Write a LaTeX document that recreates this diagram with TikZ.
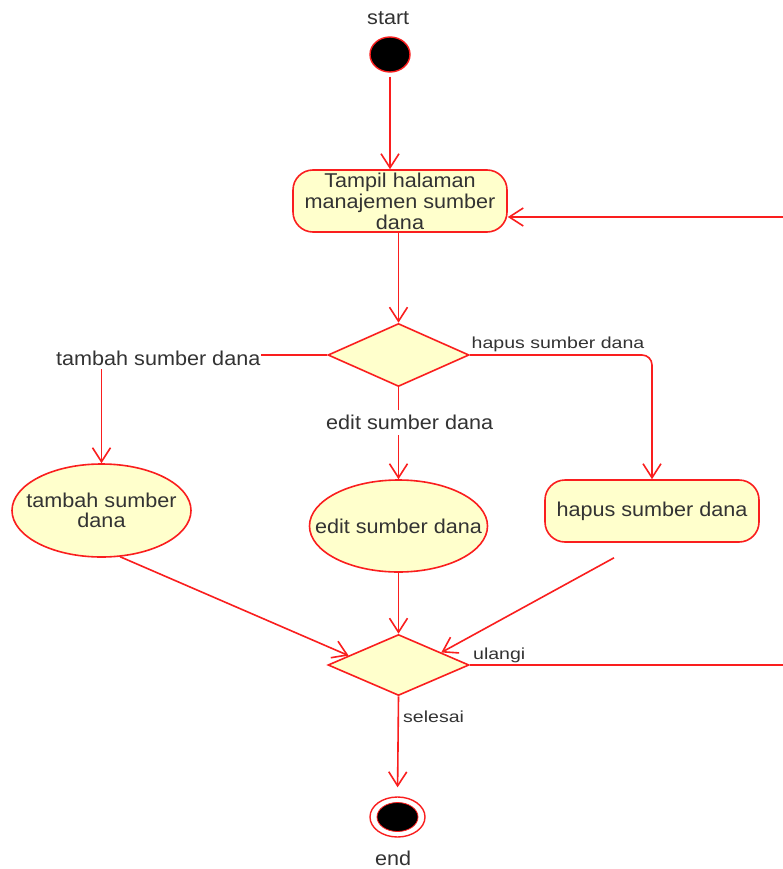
\documentclass[tikz,border=0pt]{standalone}
\usepackage{fontspec}
\setmainfont[FakeStretch=1.08]{Liberation Sans}
\newfontfamily\smallfont[FakeStretch=1.22]{Liberation Sans}
\usetikzlibrary{shapes.geometric,arrows.meta,calc}
\definecolor{umlred}{RGB}{250,30,30}
\definecolor{umlfill}{RGB}{255,255,204}
\definecolor{umltext}{RGB}{51,51,51}
\begin{document}
\begin{tikzpicture}[x=1pt,y=-1pt,
  every node/.style={text=umltext, font=\fontsize{20}{21}\selectfont},
  flow/.style={draw=umlred, line width=1.6pt, -{Straight Barb[length=14pt,width=18pt]}},
  actbox/.style={draw=umlred, fill=umlfill, line width=1.6pt, rounded corners=20pt,
    minimum width=214pt, minimum height=62pt, inner sep=2pt, align=center},
  actell/.style={ellipse, draw=umlred, fill=umlfill, line width=1.6pt, inner sep=0pt},
  decision/.style={diamond, draw=umlred, fill=umlfill, line width=1.6pt, inner sep=0pt,
    minimum width=141pt},
  edgelbl/.style={inner sep=0pt},
  smalllbl/.style={inner sep=0pt, font=\smallfont\fontsize{16}{18}\selectfont}]
\useasboundingbox (0,0) rectangle (782,869);
\fill[white] (0,0) rectangle (782,869);

% start
\node[edgelbl, anchor=base west] (startlbl) at (367,25) {start};
\node[ellipse, draw=umlred, fill=black, line width=1.4pt, minimum width=40pt, minimum height=35pt, inner sep=0pt] (start) at (390,54.5) {};

% activities
\node[actbox] (tampil) at (400,201) {Tampil halaman\\manajemen sumber\\dana};
\node[decision, minimum height=63pt] (d1) at (398.5,355) {};
\node[actell, minimum width=179pt, minimum height=93pt,
  label={[align=center, font=\fontsize{20}{20.5}\selectfont]center:{tambah sumber\\dana}}] (tambah) at (101.5,510.5) {};
\node[actell, minimum width=178pt, minimum height=92pt,
  label={center:edit sumber dana}] (edit) at (398.5,526) {};
\node[actbox] (hapus) at (652,511) {hapus sumber dana};
\node[decision, minimum height=61pt] (d2) at (398.5,665) {};

% end
\node[ellipse, draw=umlred, fill=white, line width=1.4pt, minimum width=55pt, minimum height=40pt, inner sep=0pt] (endo) at (397.5,817) {};
\node[ellipse, draw=umlred, fill=black, line width=0.8pt, minimum width=41pt, minimum height=29pt, inner sep=0pt] (endi) at (endo) {};
\node[edgelbl, anchor=base west] (endlbl) at (375,865) {end};

% connectors
\draw[flow, shorten <=4pt] (start) -- (start |- tampil.north);
\draw[flow] (d1.north |- tampil.south) -- (d1.north);
\draw[flow] (d1.west) -| (tambah.north);
\node[edgelbl, fill=white, inner xsep=1pt, inner ysep=4pt, anchor=base west] (ltambah) at (55,365) {tambah sumber dana};
\draw[flow] (d1.south) -- (edit.north);
\node[edgelbl, fill=white, inner ysep=5pt, anchor=base west] (ledit) at (326,429.5) {edit sumber dana};
\draw[flow, rounded corners=10pt] (d1.east) -| (hapus.north);
\node[smalllbl, anchor=base west] (lhapus) at (471.5,348) {hapus sumber dana};

\draw[flow] (edit.south) -- (d2.north);
\draw[flow] (tambah.-68) -- ($(d2.west)!0.3!(d2.north)$);
\draw[flow] ($(hapus.south)+(-38,15)$) -- ($(d2.east)!0.4!(d2.north)$);

\coordinate (r1) at (800,665);
\coordinate (r2) at (800,217);
\draw[flow] (d2.east) -- (r1) -- (r2) -- ([yshift=-16pt]tampil.east);
\node[smalllbl, anchor=base west] (lulangi) at (473,659.5) {ulangi};

\draw[flow, shorten >=9pt] (d2.south) -- (endo.north);
\node[smalllbl, anchor=base west] (lselesai) at (403,722.7) {selesai};
\end{tikzpicture}
\end{document}
